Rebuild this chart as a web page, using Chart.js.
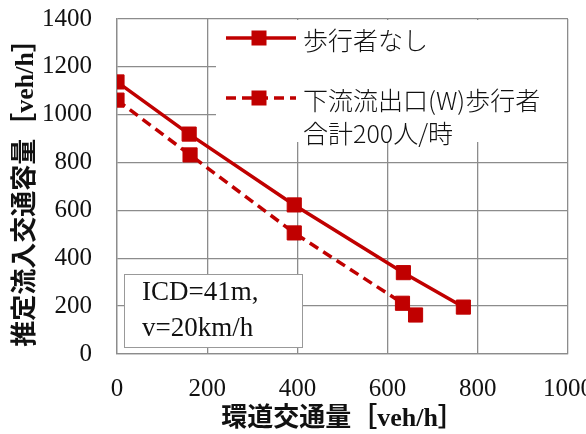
<!DOCTYPE html>
<html>
<head>
<meta charset="utf-8">
<script src="https://cdn.jsdelivr.net/npm/chart.js@4/dist/chart.umd.min.js"></script>
<style>
  html, body { margin: 0; padding: 0; background: #fff; overflow: hidden; }
  #wrap { width: 610px; height: 434px; }
</style>
</head>
<body>
<div id="wrap"><canvas id="c" width="610" height="434"></canvas></div>
<script>
// Circulating flow (veh/h) vs. estimated entry capacity (veh/h)
const noPedX = [0, 160, 393, 635, 768];
const noPedY = [1137, 919, 623, 340, 196];
const pedX = [0, 162, 393, 633, 662];
const pedY = [1061, 832, 506, 212, 163];

const xTicks = [0, 200, 400, 600, 800, 1000];
const yTicks = [0, 200, 400, 600, 800, 1000, 1200, 1400];

const seriesNames = ['歩行者なし', ['下流流出口(W)歩行者', '合計200人/時']];
const noteLines = ['ICD=41m,', 'v=20km/h'];
const xTitle = '環道交通量［veh/h］';
const yTitle = '推定流入交通容量［veh/h］';

const RED = '#C00000';
const GRID = '#8c8c8c';
const SERIF = '"Liberation Serif", "Noto Sans CJK JP", serif';

const toPoints = (xs, ys) => xs.map((x, i) => ({ x: x, y: ys[i] }));

// Keep the plot rectangle fixed: no extra room reserved for edge labels
const noEdgePadding = s => {
  s.paddingTop = 0; s.paddingBottom = 0; s.paddingLeft = 0; s.paddingRight = 0;
};

// Legend box drawn inside the plot's upper-right corner
const legendBox = {
  id: 'legendBox',
  afterDatasetsDraw(chart) {
    const ctx = chart.ctx;
    const area = chart.chartArea;
    const left = 216, top = area.top + 1, right = area.right - 1, bottom = 142;
    ctx.save();
    ctx.fillStyle = '#fff';
    ctx.fillRect(left, top, right - left, bottom - top);
    const rows = [38, 98];
    chart.data.datasets.forEach((ds, i) => {
      const y = rows[i];
      ctx.strokeStyle = ds.borderColor;
      ctx.lineWidth = ds.borderWidth;
      ctx.setLineDash(ds.borderDash || []);
      ctx.beginPath();
      ctx.moveTo(226, y);
      ctx.lineTo(296, y);
      ctx.stroke();
      ctx.setLineDash([]);
      ctx.fillStyle = ds.pointBackgroundColor;
      ctx.fillRect(259 - 7.5, y - 7.5, 15, 15);
      ctx.fillStyle = '#111';
      ctx.font = '300 25px "Noto Sans CJK JP", serif';
      ctx.textBaseline = 'middle';
      ctx.textAlign = 'left';
      const lines = Array.isArray(seriesNames[i]) ? seriesNames[i] : [seriesNames[i]];
      lines.forEach((t, k) => ctx.fillText(t, 303, y + 2 + k * 33));
    });
    ctx.restore();
  }
};

// Annotation box with the geometry conditions
const noteBox = {
  id: 'noteBox',
  afterDatasetsDraw(chart) {
    const ctx = chart.ctx;
    ctx.save();
    ctx.fillStyle = '#fff';
    ctx.strokeStyle = '#999';
    ctx.lineWidth = 1;
    ctx.fillRect(124.5, 274.5, 178, 73);
    ctx.strokeRect(124.5, 274.5, 178, 73);
    ctx.fillStyle = '#111';
    ctx.font = '27px ' + SERIF;
    ctx.textBaseline = 'middle';
    ctx.textAlign = 'left';
    ctx.fillText(noteLines[0], 142, 293);
    ctx.fillText(noteLines[1], 142, 329);
    ctx.restore();
  }
};

new Chart(document.getElementById('c'), {
  type: 'line',
  data: {
    datasets: [
      {
        label: '歩行者なし',
        data: toPoints(noPedX, noPedY),
        borderColor: RED,
        backgroundColor: RED,
        pointBackgroundColor: RED,
        pointBorderColor: RED,
        borderWidth: 3.5,
        pointStyle: 'rect',
        pointRadius: 10,
        pointBorderWidth: 1,
        tension: 0
      },
      {
        label: '下流流出口(W)歩行者合計200人/時',
        data: toPoints(pedX, pedY),
        borderColor: RED,
        backgroundColor: RED,
        pointBackgroundColor: RED,
        pointBorderColor: RED,
        borderWidth: 3.5,
        borderDash: [10, 6],
        pointStyle: 'rect',
        pointRadius: 10,
        pointBorderWidth: 1,
        tension: 0
      }
    ]
  },
  options: {
    responsive: false,
    animation: false,
    devicePixelRatio: 1,
    layout: { padding: { left: 0, right: 42, top: 19, bottom: 0 } },
    plugins: { legend: { display: false }, tooltip: { enabled: false } },
    scales: {
      x: {
        type: 'linear',
        min: 0, max: 1000,
        afterBuildTicks: s => { s.ticks = xTicks.map(v => ({ value: v })); },
        afterFit: s => { s.height = 80; noEdgePadding(s); },
        grid: { color: GRID, lineWidth: 1.3, drawTicks: false },
        border: { color: GRID, width: 1.3 },
        ticks: {
          padding: 20, color: '#111', maxRotation: 0,
          font: { family: SERIF, size: 25 },
          callback: v => String(v)
        },
        title: {
          display: true, text: xTitle, color: '#111',
          font: { family: SERIF, size: 26, weight: 'bold', lineHeight: 1.1 },
          padding: { top: 0, bottom: 0 }
        }
      },
      y: {
        min: 0, max: 1400,
        afterBuildTicks: s => { s.ticks = yTicks.map(v => ({ value: v })); },
        afterFit: s => { s.width = 117; noEdgePadding(s); },
        grid: { color: GRID, lineWidth: 1.3, drawTicks: false },
        border: { color: GRID, width: 1.3 },
        ticks: {
          padding: 25, color: '#111',
          font: { family: SERIF, size: 25 },
          callback: v => String(v)
        },
        title: {
          display: true, text: yTitle, color: '#111',
          font: { family: SERIF, size: 26, weight: 'bold' },
          padding: { top: 11, bottom: 0 }
        }
      }
    }
  },
  plugins: [legendBox, noteBox]
});
</script>
</body>
</html>
